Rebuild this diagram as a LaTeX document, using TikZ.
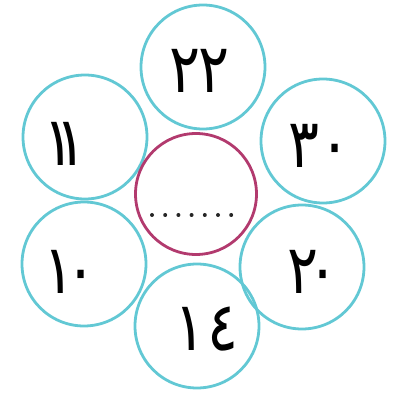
\documentclass[tikz,border=0pt]{standalone}
\usepackage{fontspec}
\newfontfamily\arabicfont[Script=Arabic]{DejaVu Sans}
\definecolor{ringcyan}{RGB}{98,200,212}
\definecolor{ringmag}{RGB}{178,58,110}
\newcommand{\nx}[1]{\scalebox{0.85}[1]{#1}}
\begin{document}
\begin{tikzpicture}[x=1pt,y=1pt,
  petal/.style={circle,draw=ringcyan,line width=2.8pt,minimum size=124pt,inner sep=0pt},
  hub/.style={circle,draw=ringmag,line width=2.8pt,minimum size=121pt,inner sep=0pt},
  num/.style={inner sep=0pt,font=\arabicfont\fontsize{68}{68}\selectfont}]
\useasboundingbox (0,0) rectangle (397,400);
\node[petal] (t) at (203,333) {};
\node[petal] (ul) at (85,263) {};
\node[petal] (ur) at (323,259) {};
\node[petal] (ll) at (84,136) {};
\node[petal] (lr) at (302,133) {};
\node[petal] (b) at (197,74) {};
\node[hub] (c) at (196,206) {};
\node[num] (tn) at (200,329) {\nx{٢}\kern-2pt\nx{٢}};
\node[num] (uln) at (65,256) {\nx{١}\kern-19pt\nx{١}};
\node[num] (urn) at (320,254) {\nx{٣}\nx{٠}};
\node[num] (lln) at (70,128) {\nx{١}\kern-9pt\nx{٠}};
\node[num] (lrn) at (313,128) {\nx{٢}\kern-12pt\nx{٠}};
\node[num] (bn) at (207,71) {\nx{١}\kern2pt\nx{٤}};
\foreach \i in {0,...,6} \fill[black!85] (152+13.2*\i,185) circle (2pt);
\end{tikzpicture}
\end{document}
